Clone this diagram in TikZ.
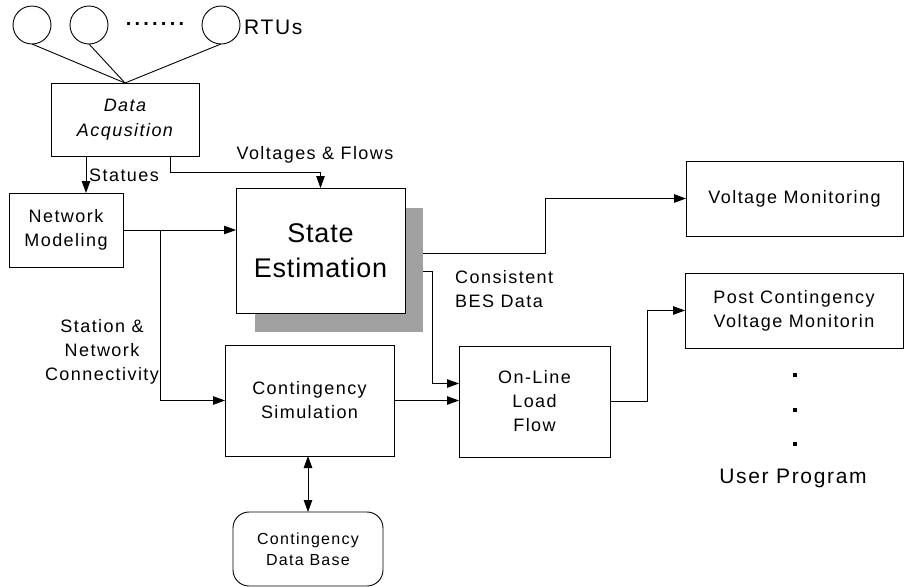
\documentclass[tikz,border=0pt]{standalone}
\usepackage{fontspec}
\setmainfont{Liberation Sans}[LetterSpace=8]
\usetikzlibrary{arrows.meta,calc}
\begin{document}
\begin{tikzpicture}[x=1pt,y=-1pt,
  every node/.style={font=\fontsize{18}{24}\selectfont},
  box/.style={draw, line width=0.9pt, inner sep=0pt, outer sep=0pt, align=center},
  arr/.style={-{Triangle[length=12pt,width=8.5pt]}, line width=0.9pt},
  arr2/.style={{Triangle[length=12pt,width=8.5pt]}-{Triangle[length=12pt,width=8.5pt]}, line width=0.9pt},
  ln/.style={line width=0.9pt},
  rtu/.style={draw, circle, minimum size=38pt, inner sep=0pt, outer sep=0pt, line width=0.9pt},
  big/.style={font=\fontsize{27}{35}\selectfont\addfontfeature{LetterSpace=3}},
  mid/.style={font=\fontsize{21}{26}\selectfont},
  small/.style={font=\fontsize{16}{21}\selectfont}]
\useasboundingbox (0,0) rectangle (906,587);

% RTUs
\node[rtu] (r1) at (32,25) {};
\node[rtu] (r2) at (89,25) {};
\node[rtu] (r3) at (221,25) {};
\node[font=\fontsize{20}{24}\selectfont\bfseries\addfontfeature{LetterSpace=16}] (dots) at (155,24) {.......};
\node[mid, anchor=west, inner sep=0pt] (rtus) at (244,27) {RTUs};

% boxes
\node[box, minimum width=148pt, minimum height=73pt] (da) at (125,119.5) {\itshape Data\\[1pt]\itshape Acqusition};
\node[box, minimum width=114pt, minimum height=74pt] (nm) at (66,230) {Network\\Modeling};
\node[draw=none, fill=black!37, minimum width=168pt, minimum height=124pt, inner sep=0pt, outer sep=0pt] (shadow) at (339,270) {};
\node[box, fill=white, minimum width=169pt, minimum height=125pt, big] (se) at (320.5,250.5) {State\\Estimation};
\node[box, minimum width=169pt, minimum height=111pt] (cs) at (309.5,400.5) {Contingency\\Simulation};
\node[box, minimum width=151pt, minimum height=111pt] (lf) at (534.5,401.5) {On-Line\\Load\\Flow};
\node[box, minimum width=217pt, minimum height=75pt] (vm) at (794.5,198.5) {Voltage Monitoring};
\node[box, minimum width=218pt, minimum height=75pt] (pc) at (794,310.5) {Post Contingency\\Voltage Monitorin};
\node[box, rounded corners=16pt, minimum width=150pt, minimum height=74pt, small] (cdb) at (308,549) {Contingency\\Data Base};

% labels
\node[anchor=west, inner sep=0pt] (lstat) at (89,175) {Statues};
\node[inner sep=0pt] (lvf) at (315,155) {Voltages \& Flows};
\node[anchor=west, align=left, inner sep=0pt] (lbes) at (455,289.5) {Consistent\\BES Data};
\node[align=center, inner sep=0pt] (lsnc) at (102,352) {Station \&\\Network\\Connectivity};
\node[mid, inner sep=0pt] (up) at (793,478) {User Program};

% vertical dots
\fill (793,373) rectangle (797,377);
\fill (793,408) rectangle (797,412);
\fill (793,442) rectangle (797,446);

% connectors
\draw[ln] (r1.south) -- (da.north);
\draw[ln] (r2.south) -- (da.north);
\draw[ln] (r3.south) -- (da.north);
\draw[arr] ([xshift=-39pt]da.south) -- ([xshift=-39pt]da.south |- nm.north);
\draw[arr] ([xshift=45pt]da.south) -- ++(0,16) -| (se.north);
\draw[arr] (nm.east) -- (nm.east -| se.west);
\coordinate (br) at (160,230);
\draw[arr] (br) |- (cs.west);
\draw[arr] ([yshift=17pt]shadow.east) -- ++(122,0) |- (vm.west);
\draw[arr] ([yshift=-1pt]shadow.east) -- ++(9,0) |- ([yshift=18pt]lf.west);
\draw[arr] (cs.east) -- (cs.east -| lf.west);
\draw[arr] (lf.east) -- ++(37,0) |- (pc.west);
\draw[arr2] (cs.south -| cdb.north) -- (cdb.north);
\end{tikzpicture}
\end{document}
